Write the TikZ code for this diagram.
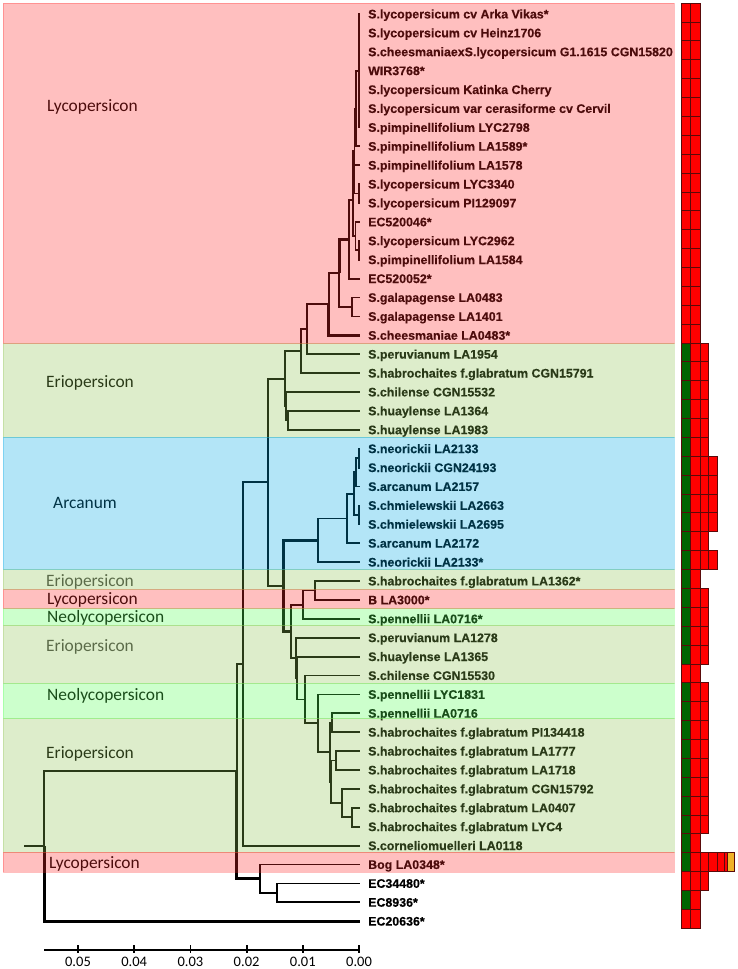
\documentclass[tikz,border=0pt]{standalone}
\usepackage{fontspec}
\setmainfont{Liberation Sans}
\newfontfamily\leaffont{Liberation Sans}[BoldFeatures={FakeBold=0.4}]
\newfontfamily\calfont{Carlito}
\definecolor{pinkC}{RGB}{255,42,42}
\definecolor{eriC}{RGB}{142,195,82}
\definecolor{arcC}{RGB}{2,168,228}
\definecolor{neoC}{RGB}{85,255,85}
\definecolor{cred}{RGB}{255,0,0}
\definecolor{cgreen}{RGB}{0,100,0}
\definecolor{corange}{RGB}{240,178,40}
\definecolor{cellline}{RGB}{90,10,10}
\definecolor{greylab}{RGB}{70,70,70}
\newcommand\mycell[4]{\filldraw[cellb, fill=#4] (#1,{3+18.88*(#3-1)}) rectangle (#2,{3+18.88*#3});}
\begin{document}
\begin{tikzpicture}[x=1pt,y=-1pt,
  br/.style={line width=1.8pt, draw=black},
  thk/.style={line width=2.6pt},
  leaf/.style={anchor=base west, inner sep=0pt, font=\leaffont\bfseries\fontsize{12.4}{14}\selectfont},
  grp/.style={anchor=base west, inner sep=0pt, font=\calfont\fontsize{17.4}{20}\selectfont},
  axl/.style={anchor=base, inner sep=0pt, font=\calfont\fontsize{14.5}{16}\selectfont},
  band/.style={fill opacity=0.3, draw opacity=0.3, line width=0.6pt},
  cellb/.style={draw=cellline, line width=0.6pt}
]
\useasboundingbox (0,0) rectangle (737,969);

% tips
\foreach \k in {1,...,49} {\coordinate (t\k) at (359.5,{14+18.9*(\k-1)});}

% leaf labels
\foreach \k/\txt in {1/S.lycopersicum cv Arka Vikas*, 2/S.lycopersicum cv Heinz1706,
 3/S.cheesmaniaexS.lycopersicum G1.1615 CGN15820, 4/WIR3768*, 5/S.lycopersicum Katinka Cherry,
 6/S.lycopersicum var cerasiforme cv Cervil, 7/S.pimpinellifolium LYC2798, 8/S.pimpinellifolium LA1589*,
 9/S.pimpinellifolium LA1578, 10/S.lycopersicum LYC3340, 11/S.lycopersicum PI129097, 12/EC520046*,
 13/S.lycopersicum LYC2962, 14/S.pimpinellifolium LA1584, 15/EC520052*, 16/S.galapagense LA0483,
 17/S.galapagense LA1401, 18/S.cheesmaniae LA0483*, 19/S.peruvianum LA1954,
 20/S.habrochaites f.glabratum CGN15791, 21/S.chilense CGN15532, 22/S.huaylense LA1364,
 23/S.huaylense LA1983, 24/S.neorickii LA2133, 25/S.neorickii CGN24193, 26/S.arcanum LA2157,
 27/S.chmielewskii LA2663, 28/S.chmielewskii LA2695, 29/S.arcanum LA2172, 30/S.neorickii LA2133*,
 31/S.habrochaites f.glabratum LA1362*, 32/B LA3000*, 33/S.pennellii LA0716*, 34/S.peruvianum LA1278,
 35/S.huaylense LA1365, 36/S.chilense CGN15530, 37/S.pennellii LYC1831, 38/S.pennellii LA0716,
 39/S.habrochaites f.glabratum PI134418, 40/S.habrochaites f.glabratum LA1777,
 41/S.habrochaites f.glabratum LA1718, 42/S.habrochaites f.glabratum CGN15792,
 43/S.habrochaites f.glabratum LA0407, 44/S.habrochaites f.glabratum LYC4,
 45/S.corneliomuelleri LA0118, 46/Bog LA0348*, 47/EC34480*, 48/EC8936*, 49/EC20636*}
 {\node[leaf] (l\k) at (368,{18.4+18.9*(\k-1)}) {\txt};}

% internal nodes
\coordinate (L1) at (358.7,70.7);
\coordinate (L2) at (356.3,108.5);
\coordinate (L3) at (359.0,193.5);
\coordinate (L5) at (354.5,151);
\coordinate (L7) at (358.8,250.2);
\coordinate (L8) at (355.5,236);
\coordinate (LA) at (353.3,200);
\coordinate (LB) at (348.7,239.3);
\coordinate (LG) at (351.7,306.95);
\coordinate (LC) at (339.3,273.1);
\coordinate (LD) at (328.7,304.2);
\coordinate (LE) at (307.3,329.2);
\coordinate (LF) at (301,351.15);
\coordinate (E1) at (287.7,420.35);
\coordinate (E2) at (286,406.2);
\coordinate (LH) at (284.7,378.7);
\coordinate (A1) at (358.7,458.15);
\coordinate (A2) at (355.7,472.3);
\coordinate (A3) at (358.7,514.85);
\coordinate (A4) at (354,493.6);
\coordinate (A5) at (346.7,518.4);
\coordinate (A6) at (318.3,540.25);
\coordinate (B1) at (314.7,590.45);
\coordinate (B2) at (302.7,604.6);
\coordinate (D1) at (331.7,722.75);
\coordinate (D2) at (335.7,760.55);
\coordinate (D3) at (351.7,817.25);
\coordinate (D4) at (342,803.1);
\coordinate (D5) at (331,781.8);
\coordinate (D6) at (329.7,752.3);
\coordinate (D7) at (317.7,723.35);
\coordinate (D8) at (305,699.4);
\coordinate (C1) at (297.3,678);
\coordinate (C2) at (296,657.85);
\coordinate (B3) at (290.7,631.2);
\coordinate (A7) at (283.3,585.7);
\coordinate (M1) at (268.3,482.2);
\coordinate (M2) at (242.7,663.9);
\coordinate (N1) at (277,892.85);
\coordinate (N2) at (260,878.7);
\coordinate (M3) at (236.7,771.3);
\coordinate (R) at (44.3,846.25);
\coordinate (R0) at (24,846.25);

% branches
\foreach \k in {1,...,7} {\draw[br] (L1) |- (t\k);}
\draw[br] (L2) |- (L1); \draw[br] (L2) |- (t8);
\draw[br] (L3) |- (t10); \draw[br] (L3) |- (t11);
\draw[br] (L5) |- (L2); \draw[br] (L5) |- (L3);
\draw[br] (L7) |- (t13); \draw[br] (L7) |- (t14);
\draw[br] (L8) |- (t12); \draw[br] (L8) |- (L7);
\draw[br] (LA) |- (L5); \draw[br] (LA) |- (t9); \draw[br] (LA) |- (L8);
\draw[br] (LB) |- (LA); \draw[br] (LB) |- (t15);
\draw[br] (LG) |- (t16); \draw[br] (LG) |- (t17);
\draw[br,thk] (LC) |- (LB); \draw[br] (LC) |- (LG);
\draw[br] (LD) |- (LC); \draw[br,thk] (LD) |- (t18);
\draw[br] (LE) |- (LD); \draw[br] (LE) |- (t19);
\draw[br] (LF) |- (LE); \draw[br] (LF) |- (t20);
\draw[br] (E1) |- (t22); \draw[br] (E1) |- (t23);
\draw[br,thk] (E2) |- (t21); \draw[br] (E2) |- (E1);
\draw[br] (LH) |- (LF); \draw[br] (LH) |- (E2);
\draw[br] (A1) |- (t24); \draw[br] (A1) |- (t25);
\draw[br] (A2) |- (A1); \draw[br] (A2) |- (t26);
\draw[br] (A3) |- (t27); \draw[br] (A3) |- (t28);
\draw[br] (A4) |- (A2); \draw[br] (A4) |- (A3);
\draw[br] (A5) |- (A4); \draw[br] (A5) |- (t29);
\draw[br] (A6) |- (A5); \draw[br] (A6) |- (t30);
\draw[br] (B1) |- (t31); \draw[br] (B1) |- (t32);
\draw[br] (B2) |- (B1); \draw[br] (B2) |- (t33);
\draw[br] (D1) |- (t38); \draw[br] (D1) |- (t39);
\draw[br] (D2) |- (t40); \draw[br] (D2) |- (t41);
\draw[br] (D3) |- (t43); \draw[br] (D3) |- (t44);
\draw[br] (D4) |- (t42); \draw[br] (D4) |- (D3);
\draw[br] (D5) |- (D2); \draw[br] (D5) |- (D4);
\draw[br] (D6) |- (D1); \draw[br] (D6) |- (D5);
\draw[br] (D7) |- (t37); \draw[br] (D7) |- (D6);
\draw[br] (D8) |- (t36); \draw[br] (D8) |- (D7);
\draw[br] (C1) |- (t35); \draw[br] (C1) |- (D8);
\draw[br] (C2) |- (t34); \draw[br] (C2) |- (C1);
\draw[br] (B3) |- (B2); \draw[br] (B3) |- (C2);
\draw[br,thk] (A7) |- (A6); \draw[br,thk] (A7) |- (B3);
\draw[br] (M1) |- (LH); \draw[br] (M1) |- (A7);
\draw[br] (M2) |- (M1); \draw[br] (M2) |- (t45);
\draw[br] (N1) |- (t47); \draw[br] (N1) |- (t48);
\draw[br] (N2) |- (t46); \draw[br,thk] (N2) |- (N1);
\draw[br] (M3) |- (M2); \draw[br,thk] (M3) |- (N2);
\draw[br] (R) |- (M3); \draw[br,thk] (R) |- (t49);
\draw[br] (R0) -- (R);

% group labels
\node[grp] (g1) at (47,111) {Lycopersicon};
\node[grp] (g2) at (46,387) {Eriopersicon};
\node[grp] (g3) at (53,508) {Arcanum};
\node[grp, text=greylab] (g4) at (46,586) {Eriopersicon};
\node[grp] (g5) at (47,604) {Lycopersicon};
\node[grp] (g6) at (47,622.5) {Neolycopersicon};
\node[grp, text=greylab] (g7) at (46,651) {Eriopersicon};
\node[grp] (g8) at (47,700) {Neolycopersicon};
\node[grp] (g9) at (46,758) {Eriopersicon};
\node[grp] (g10) at (49,868) {Lycopersicon};

% bands (translucent overlay)
\filldraw[band, fill=pinkC, draw=pinkC] (3,3) rectangle (674,343.5);
\filldraw[band, fill=eriC, draw=eriC] (3,343.5) rectangle (674,437);
\filldraw[band, fill=arcC, draw=arcC] (3,437) rectangle (674,569.5);
\filldraw[band, fill=eriC, draw=eriC] (3,569.5) rectangle (674,589.5);
\filldraw[band, fill=pinkC, draw=pinkC] (3,589.5) rectangle (674,608.5);
\filldraw[band, fill=neoC, draw=neoC] (3,608.5) rectangle (674,625);
\filldraw[band, fill=eriC, draw=eriC] (3,625) rectangle (674,683.5);
\filldraw[band, fill=neoC, draw=neoC] (3,683.5) rectangle (674,718.5);
\filldraw[band, fill=eriC, draw=eriC] (3,718.5) rectangle (674,852);
\filldraw[band, fill=pinkC, draw=pinkC] (3,852) rectangle (674,872);

% axis
\coordinate (ax0) at (44.3,950);
\coordinate (ax1) at (359,950);
\draw[br] (ax0) -- (ax1);
\foreach \i/\lab in {0/0.00,1/0.01,2/0.02,3/0.03,4/0.04,5/0.05}
 {\draw[br] ({359-56.2*\i},945) -- ({359-56.2*\i},953);
  \node[axl] (tl\i) at ({359-56.2*\i},966.5) {\lab};}

% side cells
\foreach \k in {1,...,18} {\mycell{681}{690.4}{\k}{cred}\mycell{690.4}{700.3}{\k}{cred}}
\foreach \k in {36,49} {\mycell{681}{690.4}{\k}{cred}\mycell{690.4}{700.3}{\k}{cred}}
\foreach \k in {19,20,21,22,23,24,29,32,33,34,35,37,38,39,40,41,42,43,44}
 {\mycell{681}{690.4}{\k}{cgreen}\mycell{690.4}{700.3}{\k}{cred}\mycell{700.3}{708.7}{\k}{cred}}
\foreach \k in {25,26,27,28,30}
 {\mycell{681}{690.4}{\k}{cgreen}\mycell{690.4}{700.3}{\k}{cred}\mycell{700.3}{708.7}{\k}{cred}\mycell{708.7}{717.5}{\k}{cred}}
\foreach \k in {31,45,48} {\mycell{681}{690.4}{\k}{cgreen}\mycell{690.4}{700.3}{\k}{cred}}
\mycell{681}{690.4}{46}{cgreen}\mycell{690.4}{700.3}{46}{cred}\mycell{700.3}{708.7}{46}{cred}
\mycell{708.7}{717}{46}{cred}\mycell{717}{724.3}{46}{cred}\mycell{724.3}{727}{46}{cred}
\mycell{727}{734}{46}{corange}
\mycell{681}{690.4}{47}{cred}\mycell{690.4}{700.3}{47}{cred}\mycell{700.3}{708.7}{47}{cred}
\end{tikzpicture}
\end{document}
